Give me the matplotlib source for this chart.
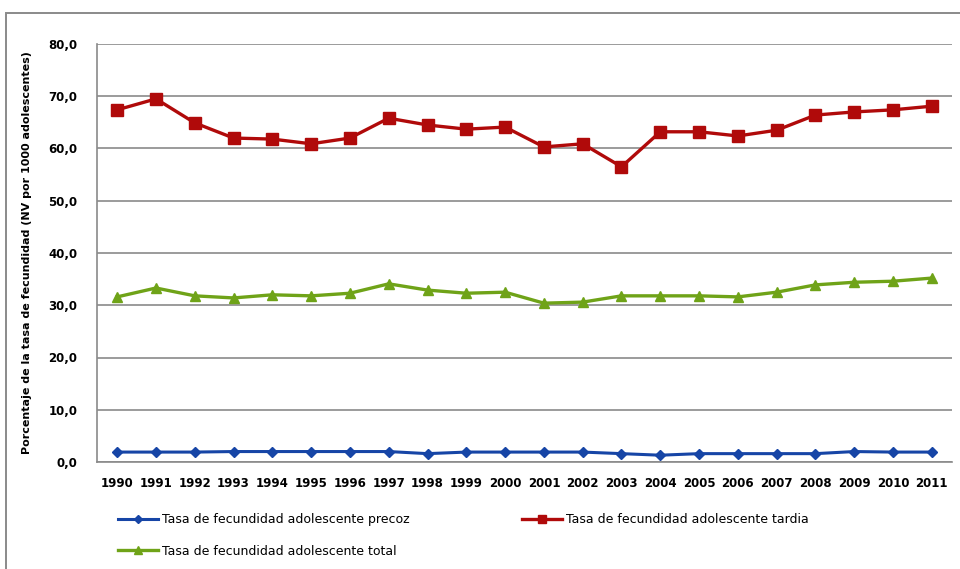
import matplotlib

matplotlib.use("Agg")
import matplotlib.pyplot as plt  # noqa: E402
from matplotlib import font_manager  # noqa: E402
from matplotlib.patches import Rectangle  # noqa: E402

years = [str(y) for y in range(1990, 2012)]
precoz = [1.9, 1.9, 1.9, 2.0, 2.0, 2.0, 2.0, 2.0, 1.6, 1.9, 1.9, 1.9, 1.9, 1.6, 1.3,
          1.6, 1.6, 1.6, 1.6, 2.0, 1.9, 1.9]
tardia = [67.4, 69.5, 64.9, 62.0, 61.8, 60.9, 62.0, 65.8, 64.5, 63.7, 64.1, 60.3, 60.9,
          56.5, 63.2, 63.2, 62.4, 63.5, 66.4, 67.0, 67.4, 68.1]
total = [31.6, 33.3, 31.8, 31.4, 32.0, 31.8, 32.3, 34.1, 32.9, 32.3, 32.5, 30.4, 30.6,
         31.8, 31.8, 31.8, 31.6, 32.5, 33.9, 34.4, 34.6, 35.2]
labels = ["Tasa de fecundidad adolescente precoz",
          "Tasa de fecundidad adolescente tardia",
          "Tasa de fecundidad adolescente total"]
yticks = [0, 10, 20, 30, 40, 50, 60, 70, 80]

BLUE, RED, GREEN, GRID = "#1645a6", "#b00a0a", "#6fa318", "#8a8a8a"
names = {f.name for f in font_manager.fontManager.ttflist}
FONT = [n for n in ("Liberation Sans Narrow", "DejaVu Sans Condensed") if n in names]
FONT += ["DejaVu Sans"]
print(FONT)

fig = plt.figure(figsize=(9.6, 5.69), dpi=100)
fig.patches.append(Rectangle((6 / 960, -0.1), 1.2, 1 - 13 / 569 + 0.1,
                             transform=fig.transFigure, fill=False,
                             edgecolor=GRID, lw=1.4))
ax = fig.add_axes([97 / 960, 1 - 462 / 569, 855 / 960, 418 / 569])
x = range(len(years))

l1, = ax.plot(x, precoz, color=BLUE, lw=2.2, marker="D", ms=5.5, label=labels[0])
l2, = ax.plot(x, tardia, color=RED, lw=2.4, marker="s", ms=8, label=labels[1])
l3, = ax.plot(x, total, color=GREEN, lw=2.4, marker="^", ms=7.5, label=labels[2])

ax.set_xlim(-0.52, len(years) - 0.48)
ax.set_ylim(0, 80)
ax.set_yticks(yticks)
ax.set_yticklabels([f"{v:.1f}".replace(".", ",") for v in yticks],
                   fontsize=8.5, fontweight="bold", family=FONT)
ax.set_xticks(list(x))
ax.set_xticklabels(years, fontsize=8.5, fontweight="bold", family=FONT)
ax.tick_params(length=0, pad=11)
ax.tick_params(axis="y", pad=14)
ax.grid(axis="y", color=GRID, lw=1.2)
ax.set_axisbelow(True)
for s in ("top", "right"):
    ax.spines[s].set_visible(False)
for s in ("left", "bottom"):
    ax.spines[s].set_color(GRID)
    ax.spines[s].set_linewidth(1.2)
ax.set_ylabel("Porcentaje de la tasa de fecundidad (NV por 1000 adolescentes)",
              fontsize=8, fontweight="bold", family=FONT, labelpad=12)

ax.legend(handles=[l1, l3, l2], ncol=2, frameon=False, loc="upper left",
          bbox_to_anchor=(10 / 855, -0.095), prop={"family": FONT, "size": 9},
          handlelength=3.2, handletextpad=0.3, columnspacing=9.0,
          labelspacing=1.5, markerscale=0.8)

fig.savefig("out.png", dpi=100)
